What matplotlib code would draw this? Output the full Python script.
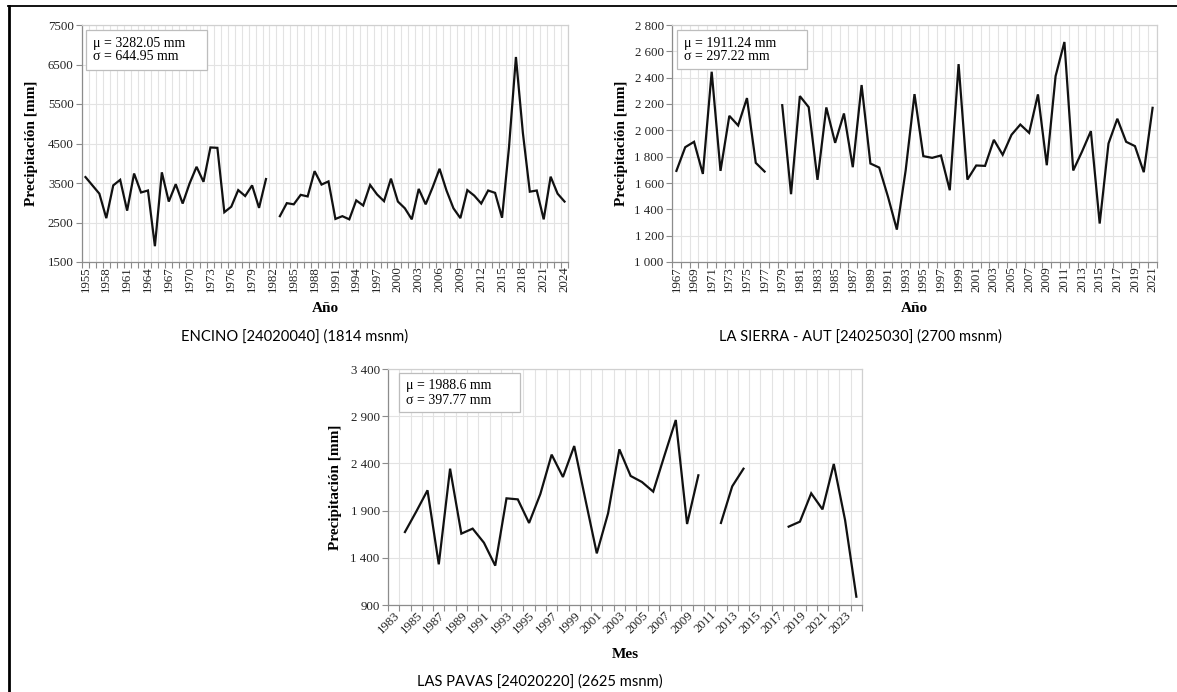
import matplotlib
matplotlib.use('Agg')
import matplotlib.pyplot as plt
import numpy as np
from matplotlib.lines import Line2D
from matplotlib.patches import Rectangle
from matplotlib.ticker import FuncFormatter

nan = np.nan

# Precipitación anual por estación
encino_years = list(range(1955, 2025))
encino_precip = [3650, 3440, 3230, 2610, 3440, 3580, 2800, 3740, 3260, 3310,
                 1900, 3770, 3030, 3470, 2980, 3490, 3910, 3530, 4400, 4390,
                 2760, 2900, 3320, 3170, 3440, 2870, 3600, nan, 2660, 2990,
                 2960, 3200, 3160, 3800, 3460, 3540, 2590, 2660, 2580, 3060,
                 2930, 3450, 3210, 3040, 3610, 3030, 2860, 2580, 3350, 2960,
                 3390, 3860, 3310, 2860, 2610, 3320, 3180, 2980, 3310, 3250,
                 2620, 4400, 6690, 4770, 3280, 3310, 2580, 3660, 3230, 3030]

sierra_years = list(range(1967, 2022))
sierra_precip = [1692, 1872, 1913, 1669, 2445, 1692, 2110, 2037, 2245, 1753,
                 1687, nan, 2191, 1515, 2260, 2176, 1624, 2174, 1905, 2128,
                 1720, 2344, 1748, 1717, 1494, 1246, 1697, 2275, 1804, 1791,
                 1809, 1545, 2503, 1626, 1733, 1730, 1928, 1814, 1966, 2044,
                 1981, 2273, 1735, 2412, 2671, 1695, 1839, 1994, 1292, 1900,
                 2088, 1913, 1880, 1682, 2171]

pavas_years = list(range(1983, 2025))
pavas_precip = [nan, 1673, 1889, 2115, 1331, 2344, 1656, 1709, 1560, 1317,
                2030, 2019, 1769, 2076, 2493, 2256, 2584, 2012, 1447, 1871,
                2549, 2267, 2203, 2101, 2485, 2860, 1758, 2274, nan, 1769,
                2157, 2344, nan, nan, nan, 1730, 1783, 2083, 1913, 2394,
                1800, 988]

W, H = 1177, 692
fig = plt.figure(figsize=(W / 100, H / 100), dpi=100)

SERIF = ['Liberation Serif', 'DejaVu Serif']
SANS = ['Lato', 'DejaVu Sans']


def px_axes(left, top, right, bottom):
    return fig.add_axes([left / W, 1 - bottom / H, (right - left) / W, (bottom - top) / H])


def thousands(v, pos):
    return '{:,.0f}'.format(v).replace(',', ' ')


def panel(ax, years, values, yticks, label_step, rot, sep, stats, box):
    n = len(years)
    x = np.arange(n)
    ax.plot(x, values, color='#111111', lw=1.6, solid_joinstyle='miter')
    ax.set_xlim(-0.5, n - 0.5)
    ax.set_ylim(yticks[0], yticks[-1])
    ax.set_yticks(yticks)
    if sep:
        ax.yaxis.set_major_formatter(FuncFormatter(thousands))
    lab_idx = list(range(0, n, label_step))
    ax.set_xticks(lab_idx)
    ax.set_xticklabels([str(years[i]) for i in lab_idx])
    ax.set_xticks(np.arange(n + 1) - 0.5, minor=True)
    ax.tick_params(axis='x', which='major', length=0, pad=3, labelsize=9.3)
    ax.tick_params(axis='x', which='minor', length=4, color='#8c8c8c', width=0.8)
    ax.tick_params(axis='y', length=4, color='#8c8c8c', width=0.8, labelsize=9.3, pad=2)
    for lab in ax.get_xticklabels() + ax.get_yticklabels():
        lab.set_family(SERIF)
        lab.set_color('#222222')
    if rot == 90:
        for lab in ax.get_xticklabels():
            lab.set_rotation(90)
    else:
        for lab in ax.get_xticklabels():
            lab.set_rotation(45)
            lab.set_ha('right')
            lab.set_va('top')
            lab.set_rotation_mode('anchor')
    ax.grid(True, axis='y', which='major', color='#e3e3e3', lw=0.8)
    ax.grid(True, axis='x', which='minor', color='#e3e3e3', lw=0.8)
    ax.set_axisbelow(True)
    for s in ('left', 'bottom'):
        ax.spines[s].set_color('#8c8c8c')
        ax.spines[s].set_linewidth(0.9)
    for s in ('top', 'right'):
        ax.spines[s].set_color('#d0d0d0')
        ax.spines[s].set_linewidth(0.9)
    bx0, by0, bx1, by1 = box
    fig.add_artist(Rectangle((bx0 / W, 1 - by1 / H), (bx1 - bx0) / W, (by1 - by0) / H,
                             transform=fig.transFigure, facecolor='white',
                             edgecolor='#bdbdbd', lw=0.9, zorder=5))
    fig.text((bx0 + 7) / W, 1 - (by0 + 13) / H, stats[0], family=SERIF, fontsize=10,
             va='center', ha='left', zorder=6)
    fig.text((bx0 + 7) / W, 1 - (by0 + 27) / H, stats[1], family=SERIF, fontsize=10,
             va='center', ha='left', zorder=6)


ax1 = px_axes(82, 25, 568, 262)
panel(ax1, encino_years, encino_precip, [1500, 2500, 3500, 4500, 5500, 6500, 7500],
      3, 90, False, ['μ = 3282.05 mm', 'σ = 644.95 mm'], (86, 30, 207, 70))

ax2 = px_axes(672, 25, 1157, 262)
panel(ax2, sierra_years, sierra_precip, list(range(1000, 2801, 200)),
      2, 90, True, ['μ = 1911.24 mm', 'σ = 297.22 mm'], (677, 30, 807, 69))

ax3 = px_axes(388, 369, 862, 605)
panel(ax3, pavas_years, pavas_precip, [900, 1400, 1900, 2400, 2900, 3400],
      2, 45, True, ['μ = 1988.6 mm', 'σ = 397.77 mm'], (399, 373, 520, 412))

# títulos de ejes
for xp, yp in [(31, 143), (621, 143), (335, 487)]:
    fig.text(xp / W, 1 - yp / H, 'Precipitación [mm]', rotation=90, family=SERIF,
             fontsize=11, fontweight='bold', ha='center', va='center')
fig.text(325 / W, 1 - 309 / H, 'Año', family=SERIF, fontsize=11, fontweight='bold',
         ha='center', va='center')
fig.text(914 / W, 1 - 309 / H, 'Año', family=SERIF, fontsize=11, fontweight='bold',
         ha='center', va='center')
fig.text(625 / W, 1 - 655 / H, 'Mes', family=SERIF, fontsize=11, fontweight='bold',
         ha='center', va='center')

# nombres de estaciones
fig.text(295 / W, 1 - 337 / H, 'ENCINO [24020040] (1814 msnm)', family=SANS,
         fontsize=10.6, ha='center', va='center')
fig.text(860 / W, 1 - 337 / H, 'LA SIERRA - AUT [24025030] (2700 msnm)', family=SANS,
         fontsize=10.6, ha='center', va='center')
fig.text(540 / W, 1 - 682 / H, 'LAS PAVAS [24020220] (2625 msnm)', family=SANS,
         fontsize=10.6, ha='center', va='center')

# bordes de la tabla
fig.add_artist(Line2D([9 / W, 9 / W], [0, 1 - 6 / H], transform=fig.transFigure,
                      color='black', lw=2))
fig.add_artist(Line2D([8 / W, 1], [1 - 6 / H, 1 - 6 / H], transform=fig.transFigure,
                      color='black', lw=1.3))

fig.savefig('out.png', dpi=100)
